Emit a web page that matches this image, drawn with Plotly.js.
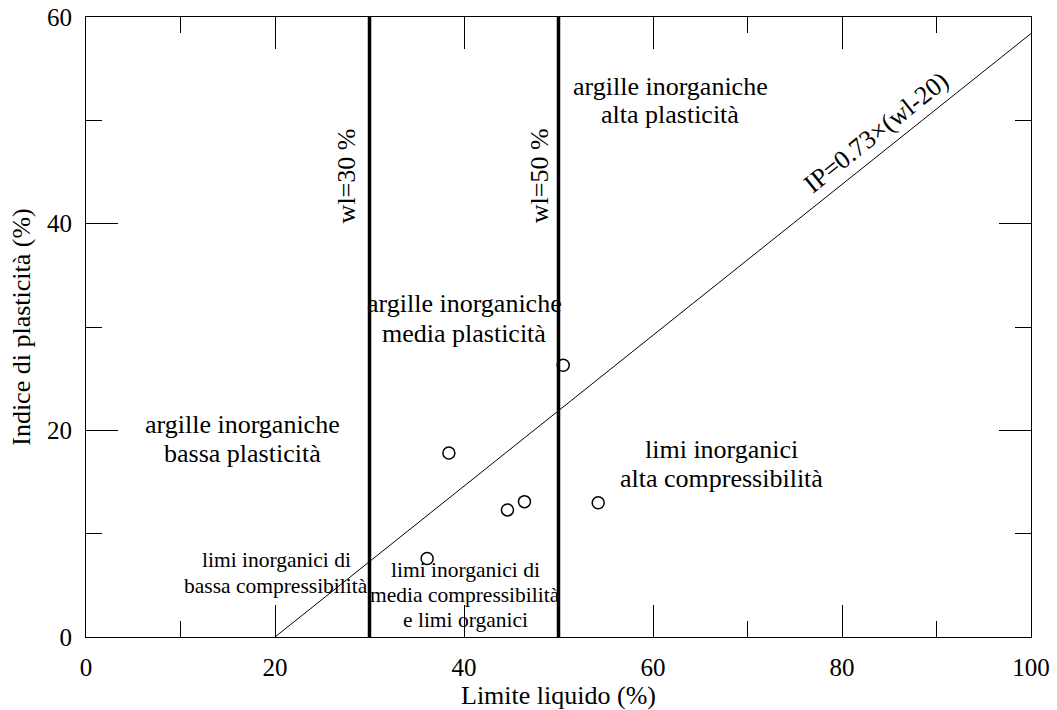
<!DOCTYPE html>
<html>
<head>
<meta charset="utf-8">
<script src="https://cdn.plot.ly/plotly-3.0.1.min.js"></script>
<style>html,body{margin:0;padding:0;background:#fff;}#chart{width:1057px;height:710px;}</style>
</head>
<body>
<div id="chart"></div>
<script>
// Sample points (limite liquido, indice di plasticità)
const wl = [50.5, 38.4, 44.6, 46.4, 54.2, 36.1];
const ip = [26.3, 17.8, 12.3, 13.1, 13.0, 7.6];
// A-line IP = 0.73*(wl-20)
const aLineWl = [20, 100];
const aLineIp = aLineWl.map(v => 0.73 * (v - 20));
// boundaries
const wlLimits = [30, 50];
const xTicks = [0, 20, 40, 60, 80, 100];
const yTicks = [0, 20, 40, 60];

const font = "Liberation Serif, Times New Roman, serif";

const traces = [
  {x: aLineWl, y: aLineIp, mode: 'lines', line: {color: '#000', width: 1}, hoverinfo: 'skip'},
  ...wlLimits.map(v => ({x: [v, v], y: [0, 60], mode: 'lines', line: {color: '#000', width: 3.5}, hoverinfo: 'skip'})),
  {x: wl, y: ip, mode: 'markers', marker: {symbol: 'circle-open', size: 12, color: '#000', line: {width: 1.5, color: '#000'}}}
];

const big = {family: font, size: 26, color: '#000'};
const small = {family: font, size: 21.5, color: '#000'};
const ann = (x, y, text, f, angle) => ({x, y, xref: 'x', yref: 'y', text, showarrow: false, font: f, textangle: angle || 0, align: 'center', xanchor: 'center', yanchor: 'middle'});

const layout = {
  width: 1057, height: 710,
  margin: {l: 86, r: 26, t: 17, b: 73},
  paper_bgcolor: '#fff', plot_bgcolor: '#fff',
  showlegend: false,
  font: {family: font, size: 24, color: '#000'},
  xaxis: {
    range: [0, 100], tickvals: xTicks, ticktext: xTicks.map(String),
    ticks: 'inside', ticklen: 32, tickcolor: '#000', tickwidth: 1,
    minor: {dtick: 10, tick0: 0, ticks: 'inside', ticklen: 16, tickcolor: '#000', tickwidth: 1},
    showline: true, linecolor: '#000', linewidth: 1, mirror: 'ticks',
    showgrid: false, zeroline: false, ticklabelstandoff: 8,
    tickfont: {family: font, size: 25, color: '#000'},
    title: {text: 'Limite liquido (%)', font: {family: font, size: 26, color: '#000'}, standoff: 0}
  },
  yaxis: {
    range: [0, 60], tickvals: yTicks, ticktext: yTicks.map(String),
    ticks: 'inside', ticklen: 32, tickcolor: '#000', tickwidth: 1,
    minor: {dtick: 10, tick0: 0, ticks: 'inside', ticklen: 16, tickcolor: '#000', tickwidth: 1},
    showline: true, linecolor: '#000', linewidth: 1, mirror: 'ticks',
    showgrid: false, zeroline: false, ticklabelstandoff: 8,
    tickfont: {family: font, size: 25, color: '#000'},
    title: {text: 'Indice di plasticità (%)', font: {family: font, size: 26, color: '#000'}, standoff: 8}
  },
  annotations: [
    ann(27.55, 44.61, 'wl=30 %', big, -90),
    ann(47.95, 44.61, 'wl=50 %', big, -90),
    ann(83.6, 48.87, 'IP=0.73×(wl-20)', big, -38.6),
    ann(61.80, 53.28, 'argille inorganiche', big),
    ann(61.80, 50.57, 'alta plasticità', big),
    ann(40.0, 32.28, 'argille inorganiche', big),
    ann(40.0, 29.38, 'media plasticità', big),
    ann(16.51, 20.57, 'argille inorganiche', big),
    ann(16.51, 17.77, 'bassa plasticità', big),
    ann(67.30, 18.15, 'limi inorganici', big),
    ann(67.30, 15.35, 'alta compressibilità', big),
    ann(20.11, 7.45, 'limi inorganici di', small),
    ann(20.11, 4.94, 'bassa compressibilità', small),
    ann(40.11, 6.48, 'limi inorganici di', small),
    ann(40.11, 4.06, 'media compressibilità', small),
    ann(40.11, 1.65, 'e limi organici', small)
  ]
};

Plotly.newPlot('chart', traces, layout, {displayModeBar: false, staticPlot: true});
</script>
</body>
</html>
